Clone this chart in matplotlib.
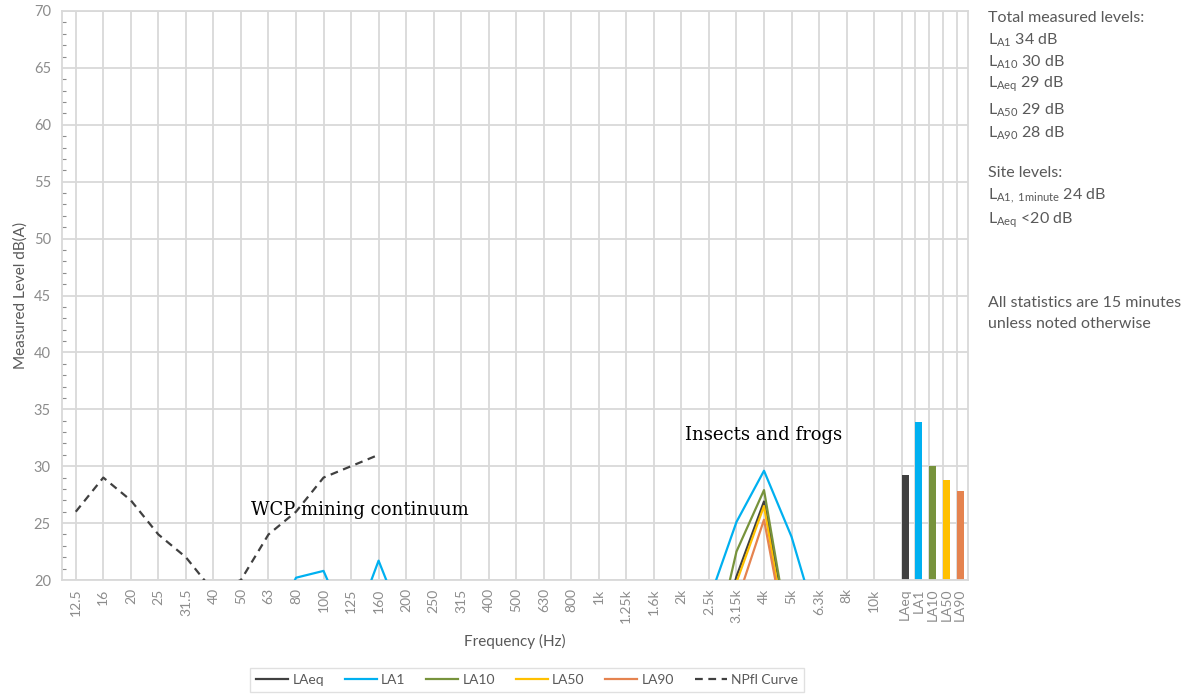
import numpy as np
import matplotlib.pyplot as plt

plt.rcParams['font.family'] = ['Lato', 'DejaVu Sans']
plt.rcParams['mathtext.fontset'] = 'custom'
plt.rcParams['mathtext.rm'] = 'Lato'
plt.rcParams['mathtext.it'] = 'Lato:italic'

# one-third octave bands
bands = ['12.5', '16', '20', '25', '31.5', '40', '50', '63', '80', '100',
         '125', '160', '200', '250', '315', '400', '500', '630', '800', '1k',
         '1.25k', '1.6k', '2k', '2.5k', '3.15k', '4k', '5k', '6.3k', '8k', '10k']

# band levels, dB(A) (values under 20 sit below the axis floor)
la_eq = [15, 15, 15, 15, 15, 15, 15, 15, 15, 15, 15, 15, 15, 15, 15,
         15, 15, 15, 15, 15, 15, 15, 15, 12, 20.3, 26.9, 14.0, 13, 13, 13]
la1 = [15, 15, 15, 15, 15, 15, 15, 15, 20.2, 20.8, 15.2, 21.7, 15.6, 15, 15,
       15, 15, 15, 15, 15, 15, 15, 15, 18.2, 25.1, 29.6, 23.8, 15.6, 15, 15]
la10 = [15, 15, 15, 15, 15, 15, 15, 15, 15, 15, 15, 15, 15, 15, 15,
        15, 15, 15, 15, 15, 15, 15, 15, 12, 22.5, 27.9, 13.8, 13, 13, 13]
la50 = [15, 15, 15, 15, 15, 15, 15, 15, 15, 15, 15, 15, 15, 15, 15,
        15, 15, 15, 15, 15, 15, 15, 15, 12, 19.8, 26.5, 12.4, 12, 12, 12]
la90 = [15, 15, 15, 15, 15, 15, 15, 15, 15, 15, 15, 15, 15, 15, 15,
        15, 15, 15, 15, 15, 15, 15, 15, 12, 18.0, 25.3, 12.4, 12, 12, 12]
npfl = [26, 29, 27, 24, 22, 19, 20, 24, 26, 29, 30, 31] + [np.nan] * 18

# overall levels
stat_names = ['LAeq', 'LA1', 'LA10', 'LA50', 'LA90']
stat_totals = [29.2, 33.9, 30.0, 28.8, 27.8]

colors = ['#404040', '#00B0F0', '#77933C', '#FFC000', '#E5834F']
grid_c = '#D9D9D9'
tick_c = '#8C8C8C'
text_c = '#595959'

fig = plt.figure(figsize=(11.92, 6.95), dpi=100)
ax = fig.add_axes([62 / 1192, 1 - 580 / 695, (968 - 62) / 1192, (580 - 11) / 695])

x = np.arange(len(bands))
for vals, name, c in zip([la_eq, la1, la10, la50, la90], stat_names, colors):
    ax.plot(x, vals, color=c, lw=1.6, label=name, zorder=3)
ax.plot(x, npfl, color='#404040', lw=1.6, ls=(0, (3.5, 2.5)),
        label='NPfl Curve', zorder=3)

# overall bars sit at half spacing after the last band
bar_w = 0.254
bar_x = len(bands) + 0.5 * np.arange(len(stat_names))
ax.bar(bar_x, stat_totals, width=bar_w, align='edge', color=colors, zorder=2)

# gridlines
ax.vlines(np.concatenate([x, bar_x]), 20, 70, color=grid_c, lw=1.3, zorder=0)
ax.set_yticks(np.arange(20, 71, 5))
ax.set_yticks(np.arange(20, 71, 1), minor=True)
ax.yaxis.grid(True, which='major', color=grid_c, lw=1.3)
ax.set_axisbelow(True)

ax.set_xlim(-0.5, 32.41)
ax.set_ylim(20, 70)
ax.set_xticks(np.concatenate([x, bar_x + bar_w / 2]))
ax.set_xticklabels(bands + stat_names, rotation=90, color=tick_c, fontsize=10)
ax.tick_params(axis='x', length=0, pad=6)
ax.tick_params(axis='y', which='major', length=0, pad=8, labelcolor=tick_c,
               labelsize=10.5)
ax.tick_params(axis='y', which='minor', direction='in', length=3,
               color=tick_c, width=0.8)
for s in ax.spines.values():
    s.set_color(grid_c)
    s.set_linewidth(1.3)

ax.set_xlabel('Frequency (Hz)', color=text_c, fontsize=11, labelpad=8)
ax.set_ylabel('Measured Level dB(A)', color=text_c, fontsize=11, labelpad=4)

ax.text(22.12, 32.3, 'Insects and frogs', family='DejaVu Serif',
        fontsize=13, color='black', zorder=4)
ax.text(6.37, 25.7, 'WCP mining continuum', family='DejaVu Serif',
        fontsize=13, color='black', zorder=4)

# notes on the right
notes = [
    (18, 'Total measured levels:'),
    (40, r'L$_{\mathrm{A1}}$ 34 dB'),
    (62, r'L$_{\mathrm{A10}}$ 30 dB'),
    (84, r'L$_{\mathrm{Aeq}}$ 29 dB'),
    (110, r'L$_{\mathrm{A50}}$ 29 dB'),
    (133, r'L$_{\mathrm{A90}}$ 28 dB'),
    (173, 'Site levels:'),
    (196, r'L$_{\mathrm{A1,\ 1minute}}$ 24 dB'),
    (220, r'L$_{\mathrm{Aeq}}$ <20 dB'),
    (303, 'All statistics are 15 minutes'),
    (324, 'unless noted otherwise'),
]
for py, s in notes:
    fig.text(988 / 1192, 1 - py / 695, s, color=text_c, fontsize=11.5,
             va='center', ha='left')

leg = fig.legend(loc='center', bbox_to_anchor=(527 / 1192, 1 - 680 / 695),
                 ncol=6, frameon=True, fancybox=False, fontsize=10,
                 handlelength=2.3, handletextpad=0.3, columnspacing=1.5,
                 borderpad=0.45)
leg.get_frame().set_edgecolor(grid_c)
leg.get_frame().set_linewidth(1.0)
for t in leg.get_texts():
    t.set_color(text_c)

fig.savefig('out.png', dpi=100)
